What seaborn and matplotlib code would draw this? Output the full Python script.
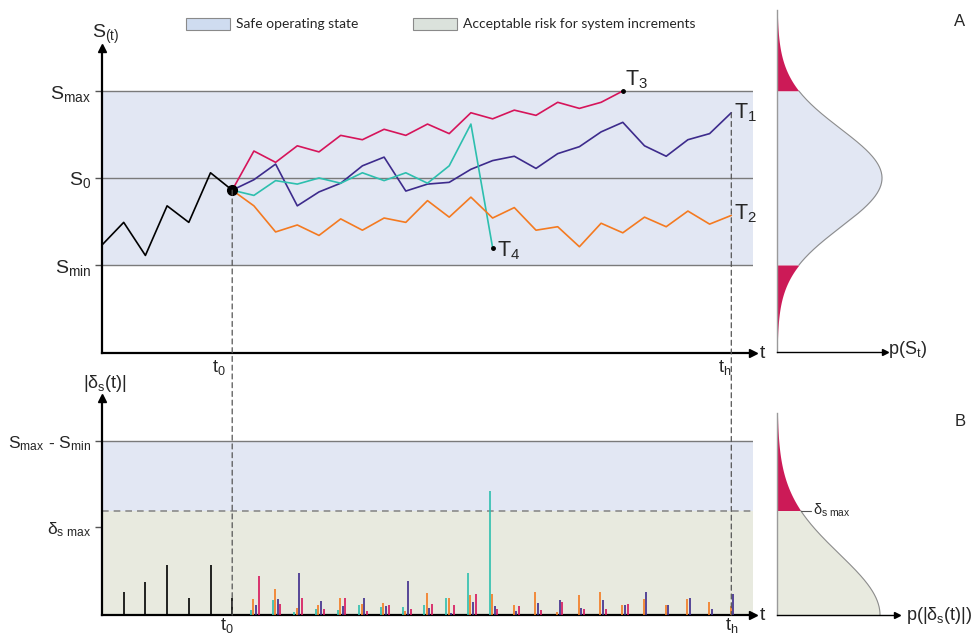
import numpy as np
import pandas as pd
import matplotlib.pyplot as plt
import seaborn as sns
from matplotlib.patches import ConnectionPatch, Patch

# state values, in units where S0 = 0, Smax = +1, Smin = -1
black_S = [-0.77, -0.51, -0.89, -0.32, -0.51, 0.06, -0.14]          # t = 0..6
red_S = [-0.14, 0.31, 0.18, 0.37, 0.30, 0.49, 0.44, 0.56, 0.49, 0.62,
         0.51, 0.75, 0.68, 0.78, 0.72, 0.87, 0.80, 0.87, 1.00]       # T3, t = 6..24
purple_S = [-0.14, -0.02, 0.16, -0.32, -0.16, -0.06, 0.14, 0.24, -0.15, -0.07,
            -0.05, 0.10, 0.20, 0.25, 0.11, 0.28, 0.36, 0.53, 0.64, 0.37,
            0.25, 0.44, 0.51, 0.75]                                   # T1, t = 6..29
teal_S = [-0.14, -0.20, -0.03, -0.07, 0.00, -0.06, 0.06, -0.03, 0.06, -0.06,
          0.14, 0.62, -0.80]                                          # T4, t = 6..18
orange_S = [-0.14, -0.32, -0.62, -0.54, -0.66, -0.47, -0.60, -0.46, -0.51, -0.26,
            -0.45, -0.22, -0.46, -0.34, -0.60, -0.56, -0.79, -0.52, -0.63, -0.45,
            -0.56, -0.38, -0.53, -0.43]                               # T2, t = 6..29

T0 = 6
TH = 29
S_MAX, S_MIN = 1.0, -1.0
RANGE = S_MAX - S_MIN
DS_MAX = 1.2          # dashed threshold in panel B
DS_MAX_TICK = 1.01    # where the tick label sits
SIGMA_A = 0.565       # spread of p(S_t)
SIGMA_B = 0.70        # spread of p(|ds(t)|)

trajs = {"history": (0, black_S), "T3": (T0, red_S), "T1": (T0, purple_S),
         "T4": (T0, teal_S), "T2": (T0, orange_S)}
colors = {"history": "black", "T1": "#3d2b8c", "T2": "#f47a20",
          "T3": "#d6145a", "T4": "#2dbfae"}
bar_offset = {"T4": -0.14, "T2": -0.03, "T1": 0.09, "T3": 0.22}

SAFE = "#e2e7f3"
ACCEPT = "#e8eadf"
RISK = "#cc1a57"
GRID = "#7a7a7a"

sns.set_style("white")
plt.rcParams["font.family"] = ["Liberation Sans", "DejaVu Sans"]
plt.rcParams["mathtext.fontset"] = "custom"
plt.rcParams["mathtext.rm"] = "Liberation Sans"
plt.rcParams["mathtext.it"] = "Liberation Sans:italic"

W, H = 975, 636
fig = plt.figure(figsize=(W / 100, H / 100), dpi=100)

def box(x0, y0, x1, y1):
    return [x0 / W, 1 - y1 / H, (x1 - x0) / W, (y1 - y0) / H]

def fx(x, y):
    return x / W, 1 - y / H

STEP = 21.7   # px per time step
UNIT = 87.0   # px per S unit
RIGHT = 753

axA = fig.add_axes(box(102, 48, RIGHT, 353))
axB = fig.add_axes(box(102, 398, RIGHT, 615))
axC = fig.add_axes(box(777, 10, 885, 352))
axD = fig.add_axes(box(777, 413, 897, 615))

tmax = (RIGHT - 102) / STEP
axA.set_xlim(0, tmax)
axA.set_ylim(-(353 - 178) / UNIT, (178 - 48) / UNIT)
axB.set_xlim(0, tmax)
axB.set_ylim(0, (615 - 398) / UNIT)

# ---- panel A: trajectories
axA.axhspan(S_MIN, S_MAX, color=SAFE, zorder=0, lw=0)
for y in (S_MIN, 0, S_MAX):
    axA.axhline(y, color=GRID, lw=1, zorder=1)

rows = []
for name, (start, vals) in trajs.items():
    for i, v in enumerate(vals):
        rows.append({"traj": name, "t": start + i, "S": v})
df = pd.DataFrame(rows)
sns.lineplot(data=df, x="t", y="S", hue="traj", palette=colors, estimator=None,
             sort=False, lw=1.2, legend=False, ax=axA, zorder=3)

axA.plot(T0, black_S[-1], "o", color="k", ms=7, zorder=5)
axA.plot(T0 + len(red_S) - 1, red_S[-1], "o", color="k", ms=2.5, zorder=5)
axA.plot(T0 + len(teal_S) - 1, teal_S[-1], "o", color="k", ms=2.5, zorder=5)

labels = {"T1": (3, 0), "T2": (3, 2), "T3": (2, 11), "T4": (4, -3)}
for name, (dx, dy) in labels.items():
    start, vals = trajs[name]
    axA.annotate(f"T$_{name[1]}$", xy=(start + len(vals) - 1, vals[-1]),
                 xytext=(dx, dy), textcoords="offset pixels",
                 ha="left", va="center", fontsize=15.5)

axA.set_yticks([S_MIN, 0, S_MAX],
               labels=[r"S$_\mathrm{min}$", r"S$_\mathrm{0}$", r"S$_\mathrm{max}$"])
axA.set_xticks([])
axA.set_xlabel("")
axA.set_ylabel("")

# ---- panel B: increments
axB.axhspan(DS_MAX, RANGE, color=SAFE, zorder=0, lw=0)
axB.axhspan(0, DS_MAX, color=ACCEPT, zorder=0, lw=0)
axB.axhline(RANGE, color=GRID, lw=1, zorder=1)
axB.axhline(DS_MAX, color="#8a8a8a", lw=1.2, ls=(0, (4, 3)), zorder=1)

for name, (start, vals) in trajs.items():
    inc = np.abs(np.diff(vals))
    tt = np.arange(start + 1, start + len(vals)) + bar_offset.get(name, 0)
    axB.vlines(tt, 0, inc, color=colors[name], lw=1.2, zorder=3)

axB.set_yticks([RANGE, DS_MAX_TICK],
               labels=[r"S$_\mathrm{max}$ - S$_\mathrm{min}$", r"δ$_\mathrm{s\ max}$"])
axB.set_xticks([])

for ax, size in ((axA, 14), (axB, 12.5)):
    sns.despine(ax=ax)
    for side in ("left", "bottom"):
        ax.spines[side].set_color("black")
        ax.spines[side].set_linewidth(1.6)
    ax.tick_params(axis="y", length=5, width=1, color="#555555", labelsize=size, pad=3, left=True)
    ax.plot(0, 1, "^k", ms=6, transform=ax.transAxes, clip_on=False)
    ax.plot(1, 0, ">k", ms=6, transform=ax.transAxes, clip_on=False)

# dashed markers for t0 and th across both panels
for t, s in ((T0, black_S[-1]), (TH, purple_S[-1])):
    con = ConnectionPatch(xyA=(t, s), coordsA=axA.transData, xyB=(t, 0), coordsB=axB.transData,
                          color="#555555", lw=0.9, ls=(0, (4, 3)), zorder=4)
    fig.add_artist(con)

# ---- density panels
gA_top = (178 - 10) / UNIT
axC.set_ylim(-(352 - 178) / UNIT, gA_top)
axC.set_xlim(0, 108 / 105)
pdfA = lambda s: np.exp(-0.5 * (s / SIGMA_A) ** 2)
for lo, hi, col in ((S_MAX, gA_top, RISK), (S_MIN, S_MAX, SAFE), (-gA_top, S_MIN, RISK)):
    s = np.linspace(lo, hi, 200)
    axC.fill_betweenx(s, 0, pdfA(s), color=col, lw=0)
s = np.linspace(S_MIN, S_MAX, 200)
axC.plot(pdfA(s), s, color="#8c8c8c", lw=0.8)

gB_top = (615 - 413) / UNIT
axD.set_ylim(0, gB_top)
axD.set_xlim(0, 120 / 103)
pdfB = lambda v: np.exp(-0.5 * (v / SIGMA_B) ** 2)
for lo, hi, col in ((DS_MAX, gB_top, RISK), (0, DS_MAX, ACCEPT)):
    v = np.linspace(lo, hi, 200)
    axD.fill_betweenx(v, 0, pdfB(v), color=col, lw=0)
v = np.linspace(0, DS_MAX, 200)
axD.plot(pdfB(v), v, color="#8c8c8c", lw=0.8)
axD.plot([pdfB(DS_MAX), pdfB(DS_MAX) + 0.1], [DS_MAX, DS_MAX], color="#555555", lw=0.8)
axD.text(pdfB(DS_MAX) + 0.12, DS_MAX, r"δ$_\mathrm{s\ max}$", fontsize=10.5, va="center")

for ax in (axC, axD):
    sns.despine(ax=ax)
    ax.set_xticks([])
    ax.set_yticks([])
    ax.spines["left"].set_color("#9a9a9a")
    ax.spines["left"].set_linewidth(1)
    ax.spines["bottom"].set_color("black")
    ax.spines["bottom"].set_linewidth(1)
    ax.patch.set_alpha(0)
    ax.plot(1, 0, ">k", ms=5, transform=ax.transAxes, clip_on=False)

# ---- free text
fig.text(*fx(106, 38), r"S$_{(\mathrm{t})}$", fontsize=14, ha="center", va="baseline")
fig.text(*fx(760, 358), "t", fontsize=14, ha="left", va="baseline")
fig.text(*fx(212, 372), r"t$_0$", fontsize=13, ha="left", va="baseline")
fig.text(*fx(718, 372), r"t$_\mathrm{h}$", fontsize=13, ha="left", va="baseline")
fig.text(*fx(105, 388), r"|δ$_\mathrm{s}$(t)|", fontsize=13, ha="center", va="baseline")
fig.text(*fx(227, 630), r"t$_0$", fontsize=13, ha="center", va="baseline")
fig.text(*fx(732, 630), r"t$_\mathrm{h}$", fontsize=13, ha="center", va="baseline")
fig.text(*fx(760, 620), "t", fontsize=14, ha="left", va="baseline")
fig.text(*fx(888, 350), r"p(S$_\mathrm{t}$)", fontsize=13, ha="left", va="center")
fig.text(*fx(906, 615), r"p(|δ$_\mathrm{s}$(t)|)", fontsize=13, ha="left", va="center")
fig.text(*fx(960, 22), "A", fontsize=12, ha="center", va="center")
fig.text(*fx(960, 421), "B", fontsize=12, ha="center", va="center")

handles = [Patch(fc="#cfdcf0", ec="#8a8a8a", lw=0.8), Patch(fc="#dbe2dc", ec="#8a8a8a", lw=0.8)]
fig.legend(handles, ["Safe operating state", "Acceptable risk for system increments"],
           ncol=2, loc="center left", bbox_to_anchor=fx(186, 24), frameon=False,
           prop={"family": "Lato", "size": 10}, handlelength=3.2, handleheight=0.95,
           handletextpad=0.4, columnspacing=3.9, borderpad=0, borderaxespad=0)

fig.savefig("out.png", dpi=100)
